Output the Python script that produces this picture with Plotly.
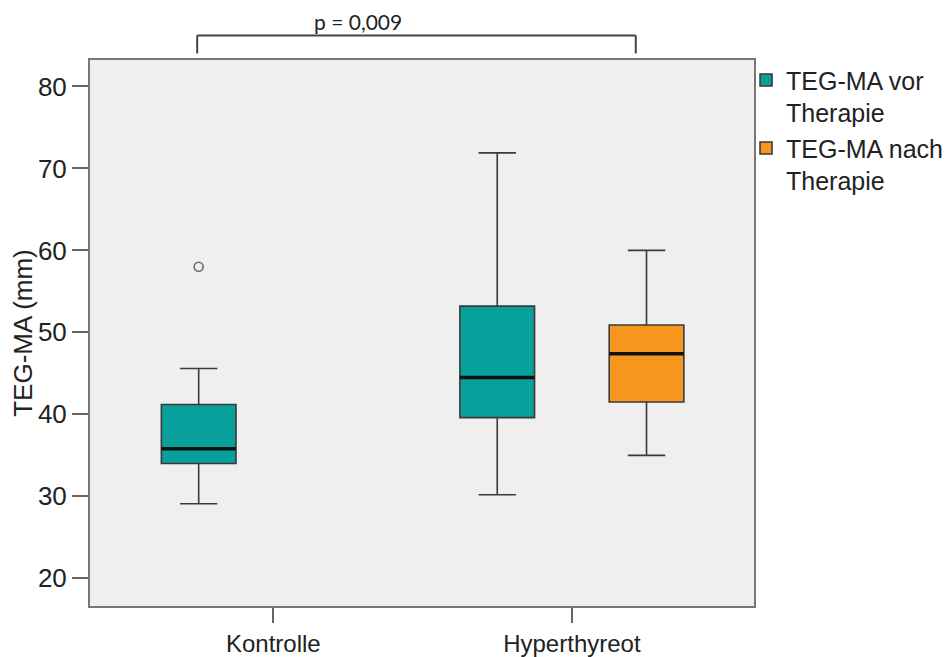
import plotly.graph_objects as go

categories = ["Kontrolle", "Hyperthyreot"]

# TEG-MA vor Therapie (Kontrolle, Hyperthyreot)
vor_x = ["Kontrolle", "Hyperthyreot"]
vor_lower = [29.1, 30.2]
vor_q1 = [34.0, 39.6]
vor_median = [35.8, 44.5]
vor_q3 = [41.2, 53.2]
vor_upper = [45.6, 71.9]
vor_outlier_x = ["Kontrolle"]
vor_outlier_y = [58.0]

# TEG-MA nach Therapie (only Hyperthyreot)
nach_x = ["Hyperthyreot"]
nach_lower = [35.0]
nach_q1 = [41.5]
nach_median = [47.4]
nach_q3 = [50.9]
nach_upper = [60.0]

y_ticks = [20, 30, 40, 50, 60, 70, 80]

TEAL = "#08A09A"
ORANGE = "#F7961F"
EDGE = "#3a3a3a"
FONT = "Liberation Sans, Arial, sans-serif"

fig = go.Figure()

fig.add_trace(go.Box(
    name="TEG-MA vor<br>Therapie", x=vor_x,
    q1=vor_q1, median=vor_median, q3=vor_q3,
    lowerfence=vor_lower, upperfence=vor_upper,
    fillcolor=TEAL, line=dict(color=EDGE, width=1.6),
    whiskerwidth=0.5, boxpoints=False,
    offsetgroup="vor", alignmentgroup="a", legendgroup="vor",
))
fig.add_trace(go.Box(
    name="TEG-MA nach<br>Therapie", x=nach_x,
    q1=nach_q1, median=nach_median, q3=nach_q3,
    lowerfence=nach_lower, upperfence=nach_upper,
    fillcolor=ORANGE, line=dict(color=EDGE, width=1.6),
    whiskerwidth=0.5, boxpoints=False,
    offsetgroup="nach", alignmentgroup="a", legendgroup="nach",
))
# thick median lines
fig.add_trace(go.Box(
    x=vor_x, q1=vor_median, median=vor_median, q3=vor_median,
    lowerfence=vor_median, upperfence=vor_median,
    fillcolor="rgba(0,0,0,0)", line=dict(color="#111111", width=3.5),
    whiskerwidth=0, boxpoints=False, showlegend=False, hoverinfo="skip",
    offsetgroup="vor", alignmentgroup="a",
))
fig.add_trace(go.Box(
    x=nach_x, q1=nach_median, median=nach_median, q3=nach_median,
    lowerfence=nach_median, upperfence=nach_median,
    fillcolor="rgba(0,0,0,0)", line=dict(color="#111111", width=3.5),
    whiskerwidth=0, boxpoints=False, showlegend=False, hoverinfo="skip",
    offsetgroup="nach", alignmentgroup="a",
))
# outlier
fig.add_trace(go.Box(
    x=vor_outlier_x, y=vor_outlier_y,
    boxpoints="all", jitter=0, pointpos=0,
    fillcolor="rgba(0,0,0,0)", line=dict(color="rgba(0,0,0,0)", width=0),
    marker=dict(symbol="circle-open", size=9, color="#6a6a6a", line=dict(width=1.6)),
    showlegend=False, offsetgroup="vor", alignmentgroup="a",
))

# significance bracket
BR_L, BR_R = -0.255, 1.214
fig.add_shape(type="line", xref="x", yref="paper", x0=BR_L, x1=BR_L, y0=1.012, y1=1.045,
              line=dict(color="#444444", width=2))
fig.add_shape(type="line", xref="x", yref="paper", x0=BR_L, x1=BR_R, y0=1.045, y1=1.045,
              line=dict(color="#444444", width=2))
fig.add_shape(type="line", xref="x", yref="paper", x0=BR_R, x1=BR_R, y0=1.012, y1=1.045,
              line=dict(color="#444444", width=2))
fig.add_annotation(x=0.285, xref="x", y=1.07, yref="paper", text="p = 0,009",
                   showarrow=False, yanchor="middle",
                   font=dict(family="Lato, Open Sans, sans-serif", size=21, color="#222222"))

# page body has an 8px margin, so the figure is 8px smaller than the window
fig.update_layout(
    width=942, height=649,
    margin=dict(l=81.5, r=195.7, t=51.5, b=51.3, autoexpand=False),
    paper_bgcolor="white", plot_bgcolor="#EFEFEF",
    boxmode="group", boxgap=0.0, boxgroupgap=0.5,
    font=dict(family=FONT, size=25, color="#222222"),
    legend=dict(x=0.988, xanchor="left", y=1.005, yanchor="top",
                valign="top", font=dict(family=FONT, size=25, color="#222222"),
                tracegroupgap=0, bgcolor="rgba(0,0,0,0)"),
)
fig.update_xaxes(
    type="category", categoryorder="array", categoryarray=categories,
    range=[-0.614, 1.61],
    showline=True, mirror=True, linecolor="#777777", linewidth=2,
    ticks="outside", ticklen=15, tickwidth=2, tickcolor="#666666",
    tickfont=dict(size=24), showgrid=False, zeroline=False,
)
fig.update_yaxes(
    range=[16.62, 83.23], tickvals=y_ticks,
    title=dict(text="TEG-MA (mm)", font=dict(size=26), standoff=0),
    showline=True, mirror=True, linecolor="#777777", linewidth=2,
    ticks="outside", ticklen=16, tickwidth=2, tickcolor="#666666",
    tickfont=dict(size=26), showgrid=False, zeroline=False,
)

fig.write_html("out.html")
